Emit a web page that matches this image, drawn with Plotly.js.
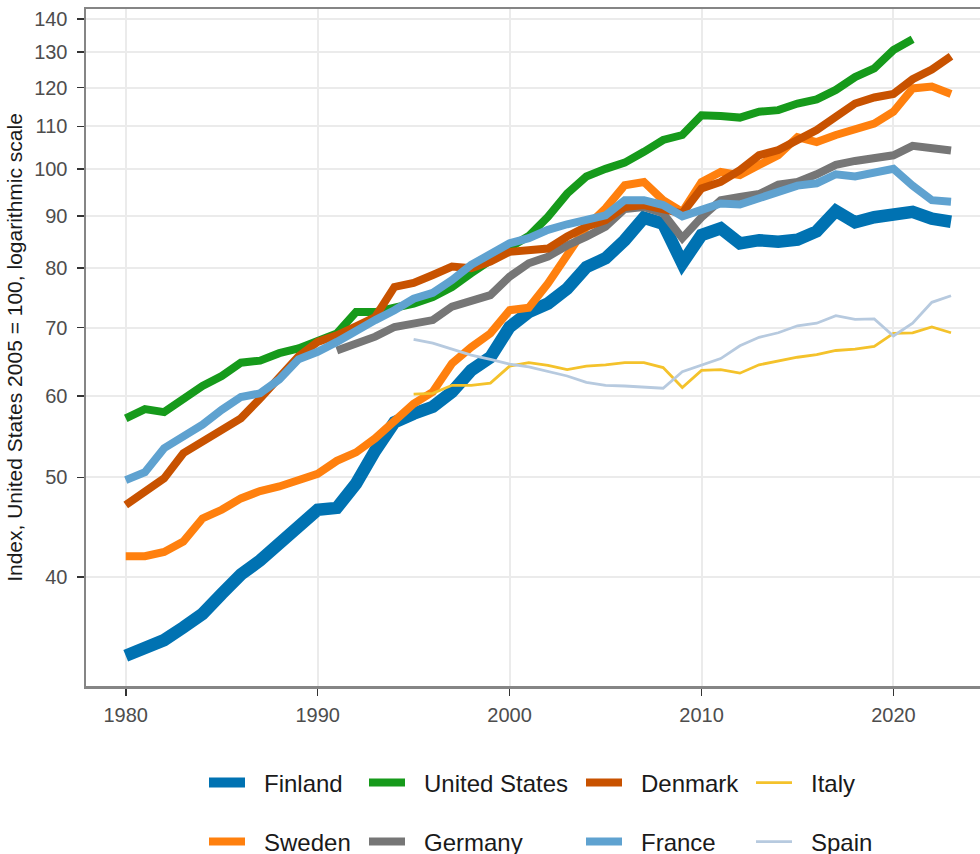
<!DOCTYPE html>
<html>
<head>
<meta charset="utf-8">
<script src="https://cdn.plot.ly/plotly-3.0.1.min.js"></script>
<style>
  html, body { margin: 0; padding: 0; overflow: hidden; background: #fff; }
  #chart { width: 1000px; height: 854px; }
</style>
</head>
<body>
<div id="chart"></div>
<script>
// ---- Data ----
const yearsAll = [1980,1981,1982,1983,1984,1985,1986,1987,1988,1989,
                  1990,1991,1992,1993,1994,1995,1996,1997,1998,1999,
                  2000,2001,2002,2003,2004,2005,2006,2007,2008,2009,
                  2010,2011,2012,2013,2014,2015,2016,2017,2018,2019,
                  2020,2021,2022,2023];
const yearsUS = yearsAll.slice(0, 42);       // 1980-2021
const yearsGermany = yearsAll.slice(11);     // 1991-2023
const yearsSouth = yearsAll.slice(15);       // 1995-2023

const finland = [33.5,34.1,34.7,35.7,36.8,38.5,40.2,41.5,43.0,44.7,
                 46.5,46.7,49.3,53.1,56.6,57.7,58.6,60.6,63.6,65.5,
                 70.1,72.5,73.9,76.4,80.2,81.8,85.2,89.6,88.4,80.9,
                 86.2,87.5,84.6,85.2,84.9,85.3,86.9,91.0,88.7,89.7,
                 90.4,90.8,89.4,88.8];
const unitedStates = [57.1,58.3,57.9,59.7,61.4,62.8,64.7,65.0,66.1,66.8,
                      68.1,69.1,72.5,72.5,73.2,73.9,75.0,76.7,79.1,81.5,
                      83.8,86.0,89.8,94.6,98.3,100.0,101.4,103.9,106.7,107.9,
                      112.8,112.6,112.2,113.7,114.1,115.8,116.9,119.4,122.9,125.3,
                      130.6,133.8];
const denmark = [47.0,48.3,49.9,52.8,54.2,55.6,57.1,59.7,62.7,65.6,
                 67.8,68.8,70.2,71.7,76.7,77.4,78.8,80.3,80.0,81.2,
                 83.0,83.3,83.6,85.9,87.8,89.1,91.8,92.2,91.2,90.5,
                 95.7,97.1,99.7,103.1,104.3,106.8,109.1,112.4,115.8,117.4,
                 118.3,122.3,125.0,128.8];
const italy = [60.3,60.4,61.5,61.5,61.8,
               64.2,64.7,64.3,63.7,64.2,64.4,64.7,64.7,64.0,61.2,
               63.6,63.7,63.2,64.4,65.0,65.5,65.9,66.5,66.7,67.1,
               69.1,69.2,70.1,69.2];
const sweden = [41.9,41.9,42.3,43.3,45.6,46.5,47.7,48.5,49.0,49.7,
                50.4,51.9,52.9,54.6,56.9,59.0,60.6,64.6,67.0,69.1,
                72.8,73.2,77.3,82.7,87.8,91.5,96.4,97.1,93.2,90.8,
                97.1,99.3,98.6,100.9,103.1,107.4,106.2,107.9,109.1,110.7,
                113.7,119.8,120.3,118.3];
const germany = [66.5,67.5,68.6,70.1,70.7,71.2,73.4,74.3,75.3,
                 78.5,80.9,82.1,84.2,85.9,87.8,91.4,91.8,90.5,85.6,
                 89.7,93.2,93.9,94.5,96.5,97.1,98.8,100.9,101.8,102.4,
                 103.1,105.3,104.6,104.2];
const france = [49.7,50.6,53.4,54.9,56.3,58.2,59.9,60.4,62.3,65.2,
                66.3,67.8,69.6,71.2,72.8,74.7,75.7,77.9,80.6,82.7,
                84.6,85.6,87.2,88.3,89.1,90.1,93.2,93.2,92.2,89.9,
                91.2,92.5,92.3,93.6,95.0,96.3,96.8,98.8,98.3,99.0,
                100.0,96.3,93.2,92.9];
const spain = [68.2,67.6,66.7,65.8,65.2,
               64.5,64.1,63.4,62.8,61.9,61.5,61.4,61.2,61.1,63.4,
               64.4,65.3,67.2,68.5,69.2,70.3,70.7,71.9,71.3,71.4,
               68.7,70.7,74.1,75.2];

const xTicks = [1980, 1990, 2000, 2010, 2020];
const yTicks = [40, 50, 60, 70, 80, 90, 100, 110, 120, 130, 140];
const yTickLabels = ["40","50","60","70","80","90","100","110","120","130","140"];

// ---- Styling ----
const FONT = "Liberation Sans, Arial, Helvetica, sans-serif";
const PLOT_L = 86, PLOT_W = 908, PLOT_T = 9, PLOT_H = 677;
const KEY_GAP = "\u2002\u200A";   // gap between legend key and label

// series in drawing order; legend slot: [column left px, row centre px]
const series = [
  {name: "Finland",       x: yearsAll,     y: finland,      color: "#0072B2", w: 12.5, pos: [204, 783]},
  {name: "Sweden",        x: yearsAll,     y: sweden,       color: "#FF800E", w: 8,    pos: [204, 842]},
  {name: "United States", x: yearsUS,      y: unitedStates, color: "#169A1B", w: 8,    pos: [364, 783]},
  {name: "Germany",       x: yearsGermany, y: germany,      color: "#767676", w: 8,    pos: [364, 842]},
  {name: "Denmark",       x: yearsAll,     y: denmark,      color: "#C85200", w: 8,    pos: [581, 783]},
  {name: "France",        x: yearsAll,     y: france,       color: "#5FA2D0", w: 8,    pos: [581, 842]},
  {name: "Italy",         x: yearsSouth,   y: italy,        color: "#F4C22B", w: 2.8,  pos: [751, 783]},
  {name: "Spain",         x: yearsSouth,   y: spain,        color: "#B7CADF", w: 2.8,  pos: [751, 842]}
];

const traces = [];
const axisCommon = {
  ticks: "outside", ticklen: 7, tickwidth: 1.6, tickcolor: "#333333",
  tickfont: {family: FONT, size: 20, color: "#4D4D4D"},
  showgrid: true, gridcolor: "#EBEBEB", gridwidth: 2,
  showline: true, mirror: true, linecolor: "#858585", linewidth: 2.5,
  zeroline: false, fixedrange: true
};
const layout = {
  width: 1000, height: 854,
  margin: {l: PLOT_L, r: 1000 - PLOT_L - PLOT_W, t: PLOT_T, b: 854 - PLOT_T - PLOT_H, autoexpand: false},
  paper_bgcolor: "#ffffff",
  plot_bgcolor: "#ffffff",
  font: {family: FONT, color: "#1a1a1a"},
  showlegend: true,
  xaxis: Object.assign({}, axisCommon, {
    range: [1977.93, 2025.24],
    tickvals: xTicks,
    ticktext: xTicks.map(String),
    ticklabelstandoff: 2
  }),
  yaxis: Object.assign({}, axisCommon, {
    type: "log",
    range: [Math.log10(31.3), Math.log10(143.2)],
    tickvals: yTicks,
    ticktext: yTickLabels,
    ticklabelstandoff: 5,
    title: {text: "Index, United States 2005 = 100, logarithmic scale",
            font: {family: FONT, size: 21, color: "#1a1a1a"}, standoff: 6}
  })
};

series.forEach((s, i) => {
  const key = i === 0 ? "legend" : "legend" + (i + 1);
  traces.push({
    type: "scatter", mode: "lines",
    name: KEY_GAP + s.name, x: s.x, y: s.y,
    line: {color: s.color, width: s.w},
    legend: key
  });
  layout[key] = {
    x: (s.pos[0] - PLOT_L) / PLOT_W,
    y: (PLOT_T + PLOT_H - s.pos[1]) / PLOT_H,
    xanchor: "left", yanchor: "middle",
    orientation: "v",
    bgcolor: "rgba(0,0,0,0)", borderwidth: 0,
    itemwidth: 36,
    font: {family: FONT, size: 24, color: "#1a1a1a"}
  };
});

Plotly.newPlot("chart", traces, layout, {displayModeBar: false, staticPlot: true});
</script>
</body>
</html>
